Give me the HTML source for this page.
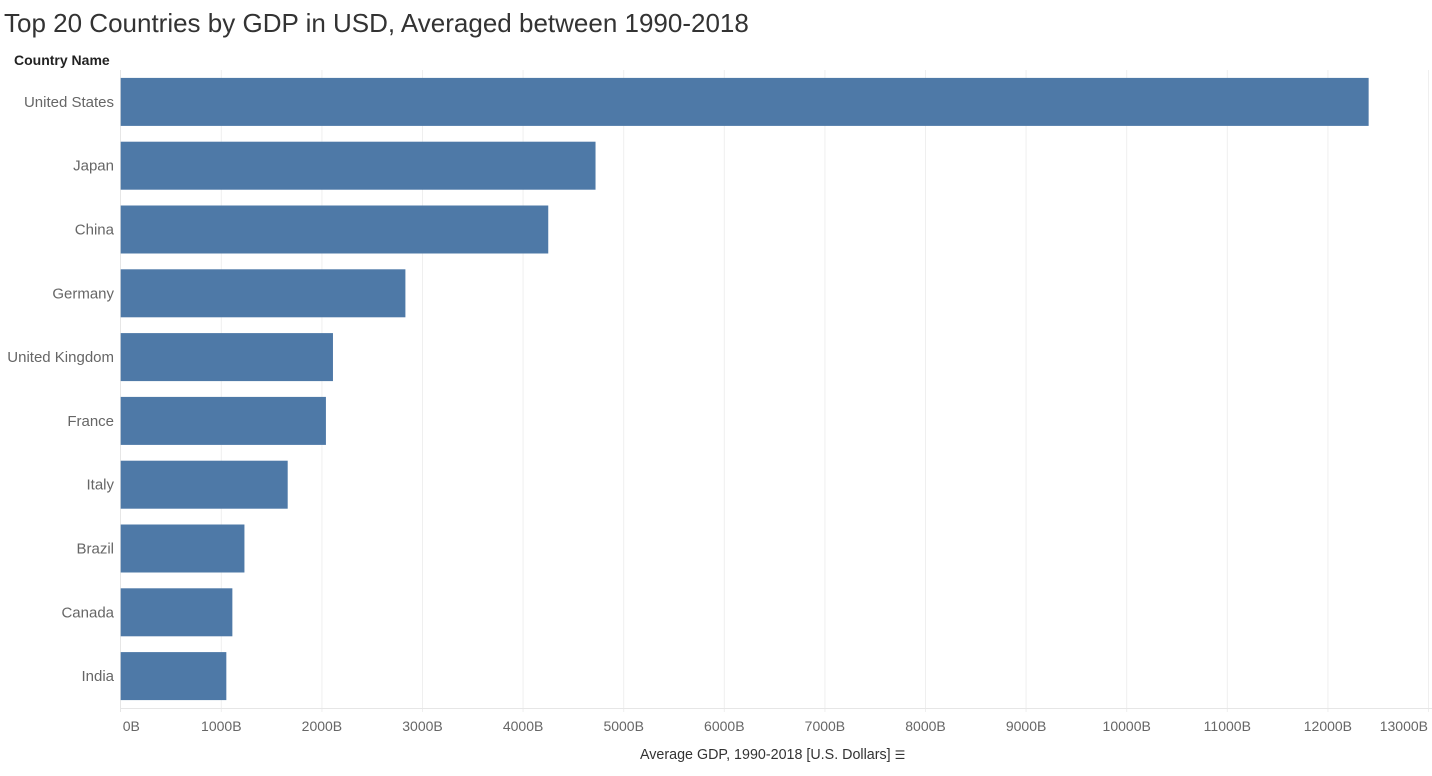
<!DOCTYPE html>
<html><head><meta charset="utf-8"><style>
body{margin:0;background:#fff;width:1432px;height:771px;overflow:hidden;font-family:"Liberation Sans",sans-serif}
</style></head><body>
<svg width="1432" height="771" id="chart">
<text x="4" y="32" font-size="26" fill="#333">Top 20 Countries by GDP in USD, Averaged between 1990-2018</text>
<text x="14" y="65" font-size="14" font-weight="bold" fill="#222">Country Name</text>
<text x="640" y="759" font-size="14.3" fill="#333">Average GDP, 1990-2018 [U.S. Dollars] <tspan font-size="12">☰</tspan></text>
</svg>
<script>
const categories=["United States","Japan","China","Germany","United Kingdom","France","Italy","Brazil","Canada","India"];
const values=[12405,4720,4250,2830,2110,2040,1660,1230,1110,1050];
const ticks=[0,1000,2000,3000,4000,5000,6000,7000,8000,9000,10000,11000,12000,13000];
const tickLabels=["0B","1000B","2000B","3000B","4000B","5000B","6000B","7000B","8000B","9000B","10000B","11000B","12000B","13000B"];
const svgEl=document.getElementById('chart');
const NS='http://www.w3.org/2000/svg';
const x0=120.7,ppu=100.6/1000,plotTop=70,bandH=63.8;
const xs=v=>x0+v*ppu;
const yc=i=>plotTop+bandH*i+bandH/2;
function mk(t,a){const e=document.createElementNS(NS,t);for(const k in a)e.setAttribute(k,a[k]);svgEl.appendChild(e);return e;}
ticks.forEach((t,i)=>{
  if(i>0){const g=mk('line',{x1:xs(t),x2:xs(t),y1:plotTop,y2:712,stroke:'#efefef','stroke-width':1});
  
  }
  const anchor=i===0?'start':(i===ticks.length-1?'end':'middle');
  const tx=i===0?xs(t)+2:(i===ticks.length-1?1428:xs(t));
  const l=mk('text',{x:tx,y:731,'font-size':14,fill:'#666','text-anchor':anchor});
  l.textContent=tickLabels[i];
  
  
});
const ax=mk('line',{x1:120,x2:1432,y1:708.5,y2:708.5,stroke:'#e6e6e6'});


const ay=mk('line',{x1:120.5,x2:120.5,y1:plotTop,y2:712,stroke:'#e6e6e6'});


categories.forEach((c,i)=>{
  const b=mk('rect',{x:x0,y:yc(i)-24,width:xs(values[i])-x0,height:48,fill:'#4e79a7'});
  
  
  const t=mk('text',{x:114,y:yc(i)+5,'font-size':15,fill:'#666','text-anchor':'end'});
  t.textContent=c;
  
  
});
</script>
</body></html>
